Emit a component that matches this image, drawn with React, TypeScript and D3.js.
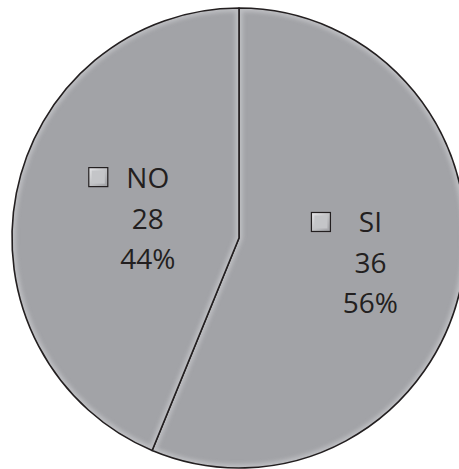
import React from "react";
import * as d3 from "d3";

const categories = ["SI", "NO"];
const values = [36, 28];
const percentLabels = ["56%", "44%"];

const W = 459;
const H = 469;
const CX = 239;
const CY = 238;
const RX = 227;
const RY = 230;
const labelRadius = [134, 93];

export default function App() {
  const pie = d3
    .pie<number>()
    .sort(null)
    .value((d) => d)
    .startAngle(0)
    .endAngle(2 * Math.PI);
  const arcs = pie(values);
  const arcGen = d3.arc<d3.PieArcDatum<number>>().innerRadius(0).outerRadius(RX);
  const sy = RY / RX;

  return (
    <svg
      width={W}
      height={H}
      style={{ position: "absolute", left: 0, top: 0, background: "#fff" }}
    >
      <defs>
        <linearGradient id="key" x1="0" y1="0" x2="1" y2="1">
          <stop offset="0" stopColor="#e6e6e8" />
          <stop offset="1" stopColor="#9d9ea2" />
        </linearGradient>
        <filter id="blur" x="-10%" y="-10%" width="120%" height="120%">
          <feGaussianBlur stdDeviation="2" />
        </filter>
        {arcs.map((a, i) => (
          <clipPath id={"clip" + i} key={"c" + i}>
            <path d={arcGen(a) || ""} />
          </clipPath>
        ))}
      </defs>
      <g transform={`translate(${CX},${CY}) scale(1,${sy})`}>
        {arcs.map((a, i) => (
          <g key={categories[i]}>
            <path d={arcGen(a) || ""} fill="#a2a3a7" />
            <g clipPath={`url(#clip${i})`}>
              <path
                d={arcGen(a) || ""}
                fill="none"
                stroke="#d6d7da"
                strokeWidth={7}
                opacity={0.55}
                filter="url(#blur)"
              />
            </g>
            <path
              d={arcGen(a) || ""}
              fill="none"
              stroke="#231f20"
              strokeWidth={1.6}
              vectorEffect="non-scaling-stroke"
              strokeLinejoin="round"
            />
          </g>
        ))}
      </g>
      {arcs.map((a, i) => {
        const lab = d3.arc<d3.PieArcDatum<number>>().innerRadius(0).outerRadius(labelRadius[i] * 2);
        const [lx, ly0] = lab.centroid(a);
        const x = CX + lx;
        const y = CY + ly0 * sy;
        const base = y + 9;
        return (
          <g key={"l" + i} fontFamily="'Open Sans', 'Noto Sans', sans-serif" fontSize={28} fill="#231f20" textAnchor="middle">
            <rect
              x={x - 59}
              y={base - 41 - 20}
              width={19}
              height={19}
              fill="url(#key)"
              stroke="#231f20"
              strokeWidth={1.2}
            />
            <rect x={x - 56} y={base - 41 - 17} width={13} height={13} fill="#c4c5c8" />
            <text x={x} y={base - 41}>{categories[i]}</text>
            <text x={x} y={base}>{values[i]}</text>
            <text x={x} y={base + 40}>{percentLabels[i]}</text>
          </g>
        );
      })}
    </svg>
  );
}
